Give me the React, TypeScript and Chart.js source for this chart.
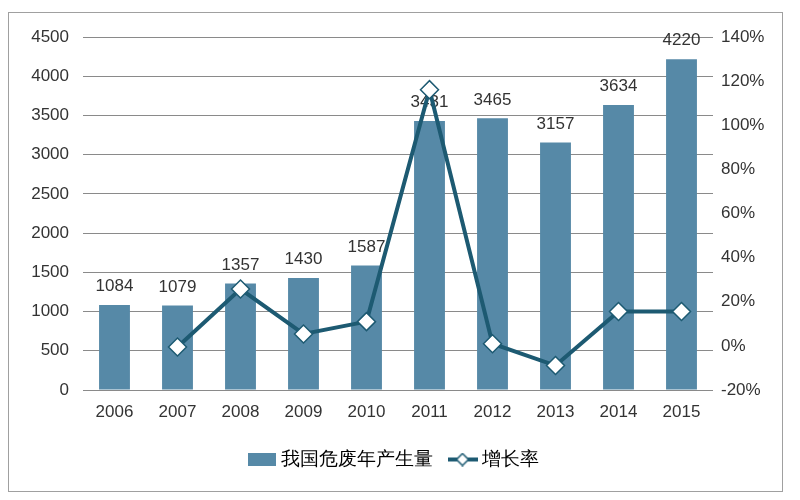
import React, { useEffect, useRef } from "react";
import { Chart, registerables } from "chart.js";

Chart.register(...registerables);

const years = ["2006", "2007", "2008", "2009", "2010", "2011", "2012", "2013", "2014", "2015"];
const output = [1084, 1079, 1357, 1430, 1587, 3431, 3465, 3157, 3634, 4220];
const growth = [null, -0.5, 25.8, 5.4, 11.0, 116.2, 1.0, -8.9, 15.6, 15.6];
const barName = "我国危废年产生量";
const lineName = "增长率";

const BAR = "#5689a7";
const LINE = "#1d5a72";
const FONT = "'Liberation Sans', Arial, sans-serif";

function makeBoxIcon() {
  const c = document.createElement("canvas");
  c.width = 28; c.height = 13;
  const g = c.getContext("2d")!;
  g.fillStyle = BAR; g.fillRect(0, 0, 28, 13);
  return c;
}
function makeLineIcon() {
  const c = document.createElement("canvas");
  c.width = 30; c.height = 14;
  const g = c.getContext("2d")!;
  g.strokeStyle = LINE; g.lineWidth = 4;
  g.beginPath(); g.moveTo(0, 7); g.lineTo(30, 7); g.stroke();
  g.fillStyle = "#fff"; g.lineWidth = 1.5;
  g.beginPath(); g.moveTo(15, 1); g.lineTo(21, 7); g.lineTo(15, 13); g.lineTo(9, 7); g.closePath();
  g.fill(); g.stroke();
  return c;
}

const labelPlugin = {
  id: "barLabels",
  afterDatasetDraw(chart: any, args: any) {
    if (args.index !== 0) return;
    const ctx = chart.ctx;
    const meta = chart.getDatasetMeta(0);
    ctx.save();
    ctx.font = `17px ${FONT}`;
    ctx.fillStyle = "#333";
    ctx.textAlign = "center";
    ctx.textBaseline = "bottom";
    meta.data.forEach((el: any, i: number) => {
      ctx.fillText(String(output[i]), el.x, el.y - 10);
    });
    ctx.restore();
  },
};

export default function App() {
  const ref = useRef<HTMLCanvasElement>(null);
  useEffect(() => {
    const chart = new Chart(ref.current!, {
      type: "bar",
      data: {
        labels: years,
        datasets: [
          {
            type: "bar",
            label: barName,
            data: output,
            backgroundColor: BAR,
            yAxisID: "y",
            order: 1,
            barPercentage: 0.49,
            categoryPercentage: 1,
          },
          {
            type: "line",
            label: lineName,
            data: growth as any,
            borderColor: LINE,
            borderWidth: 4,
            backgroundColor: "#fff",
            pointStyle: "rectRot",
            pointRadius: 9,
            pointBorderWidth: 1.5,
            pointBorderColor: LINE,
            pointBackgroundColor: "#fff",
            yAxisID: "y1",
            order: 0,
            tension: 0,
          },
        ],
      },
      options: {
        responsive: true,
        maintainAspectRatio: false,
        animation: false,
        layout: { padding: { top: 20, bottom: 12, left: 0, right: 0 } },
        plugins: {
          tooltip: { enabled: false },
          legend: {
            position: "bottom",
            labels: {
              usePointStyle: true,
              font: { size: 19, family: FONT },
              color: "#333",
              padding: 20,
              generateLabels: () => [
                { text: barName, pointStyle: makeBoxIcon() as any, datasetIndex: 0, fillStyle: BAR, strokeStyle: BAR, lineWidth: 0, hidden: false },
                { text: lineName, pointStyle: makeLineIcon() as any, datasetIndex: 1, fillStyle: "#fff", strokeStyle: LINE, lineWidth: 0, hidden: false },
              ],
            },
          },
        },
        scales: {
          x: {
            grid: { display: false },
            border: { display: false },
            ticks: { font: { size: 17, family: FONT }, color: "#333", padding: 4 },
            afterFit: (s: any) => { s.height = 40; },
          },
          y: {
            position: "left",
            min: 0,
            max: 4500,
            ticks: { stepSize: 500, font: { size: 17, family: FONT }, color: "#333", padding: 14, callback: (v: any) => String(v) },
            grid: { color: "#8a8a8a", lineWidth: 1, drawTicks: false },
            border: { display: false },
            afterFit: (s: any) => { s.width = 74; },
          },
          y1: {
            position: "right",
            min: -20,
            max: 140,
            ticks: { stepSize: 20, font: { size: 17, family: FONT }, color: "#333", padding: 8, callback: (v: any) => v + "%" },
            grid: { display: false, drawTicks: false },
            border: { display: false },
            afterFit: (s: any) => { s.width = 69; },
          },
        },
      },
      plugins: [labelPlugin],
    });
    return () => chart.destroy();
  }, []);
  return (
    <div style={{ width: 775, height: 480, marginTop: 4, border: "1px solid #a0a0a0", boxSizing: "border-box", background: "#fff" }}>
      <canvas ref={ref} />
    </div>
  );
}
